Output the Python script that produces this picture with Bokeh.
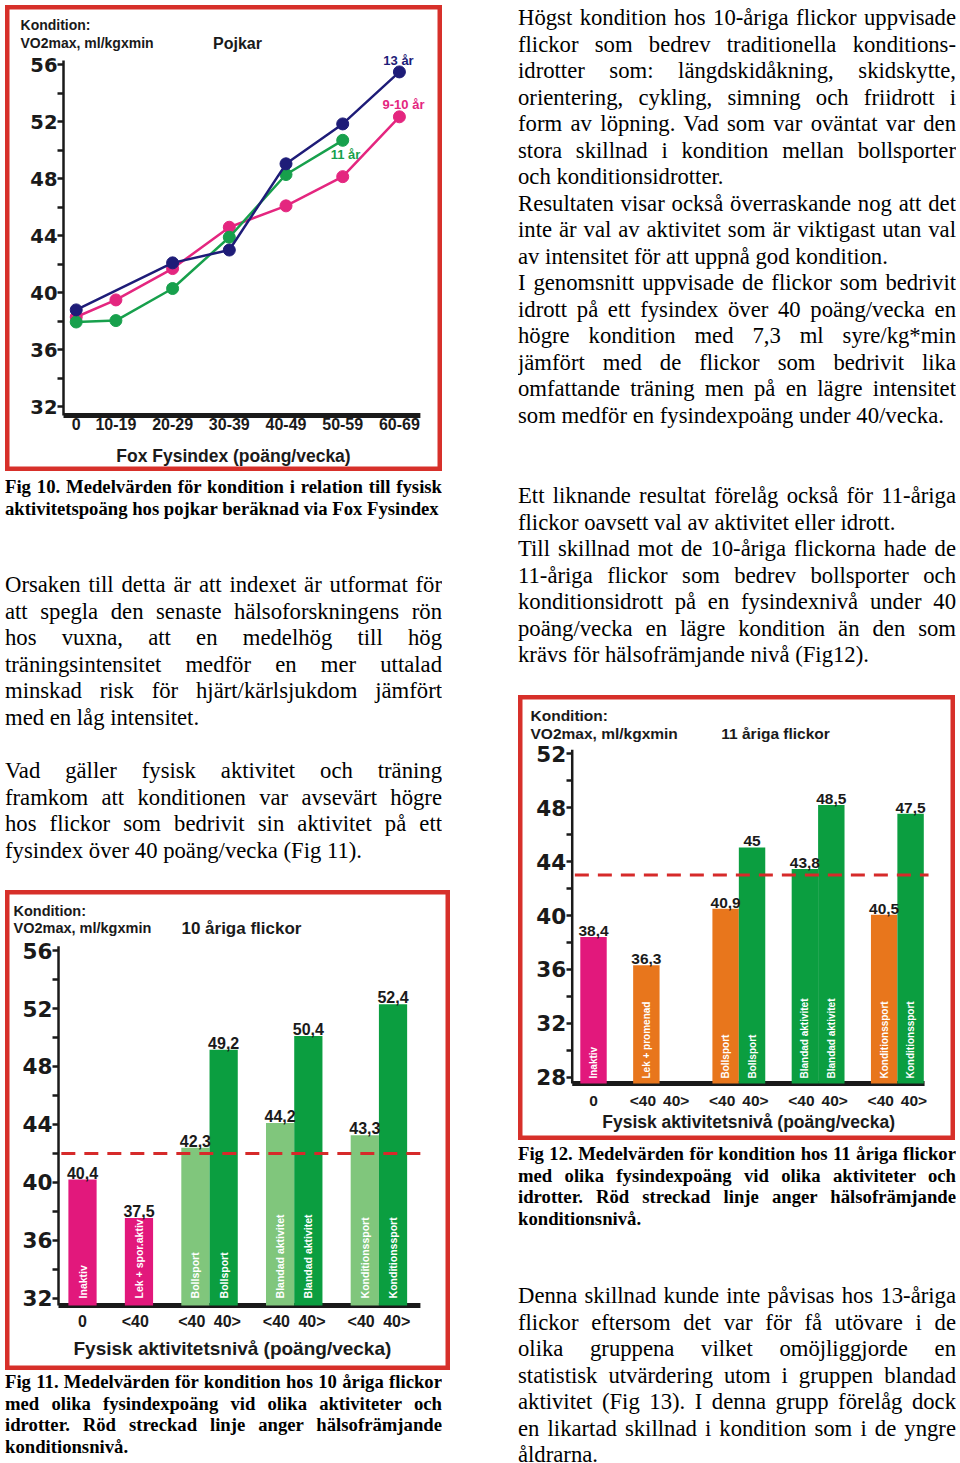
import math
from bokeh.plotting import figure
from bokeh.models import FixedTicker, Label, Div, Spacer, ColumnDataSource
from bokeh.layouts import column, row
from bokeh.embed import file_html
from bokeh.resources import INLINE
from bokeh.core.properties import value

# ---------------- data ----------------
fox_categories = ["0", "10-19", "20-29", "30-39", "40-49", "50-59", "60-69"]
boys_13 = [38.8, None, 42.1, 43.0, 49.05, 51.85, 55.5]
boys_9_10 = [38.3, 39.5, 41.7, 44.6, 46.1, 48.15, 52.35]
boys_11 = [37.95, 38.05, 40.3, 43.9, 48.3, 50.7, None]

g10_activity = ["Inaktiv", "Lek + spor.aktiv", "Bollsport", "Bollsport",
                "Blandad aktivitet", "Blandad aktivitet", "Konditionssport", "Konditionssport"]
g10_level = ["0", "<40", "<40", "40>", "<40", "40>", "<40", "40>"]
g10_height = [40.2, 37.55, 42.4, 49.15, 44.1, 50.1, 43.25, 52.3]
g10_value_text = ["40,4", "37,5", "42,3", "49,2", "44,2", "50,4", "43,3", "52,4"]
g10_kind = ["pink", "pink", "light", "dark", "light", "dark", "light", "dark"]

g11_activity = ["Inaktiv", "Lek + promenad", "", "Bollsport", "Bollsport",
                "Blandad aktivitet", "Blandad aktivitet", "Konditionssport", "Konditionssport"]
g11_level = ["0", "<40", "40>", "<40", "40>", "<40", "40>", "<40", "40>"]
g11_height = [38.4, 36.3, None, 40.5, 45.05, 43.45, 48.2, 40.05, 47.55]
g11_value_text = ["38,4", "36,3", "", "40,9", "45", "43,8", "48,5", "40,5", "47,5"]
g11_kind = ["pink", "orange", "", "orange", "dark", "dark", "dark", "orange", "dark"]

health_level_10 = 42.0
health_level_11 = 43.0

# ---------------- layout / style ----------------
fox_x = [0, 7, 17, 27, 37, 47, 57]
g10_slots = [0, 2, 4, 5, 7, 8, 10, 11]
g11_slots = [0, 2, 3, 5, 6, 8, 9, 11, 12]
LEVEL_SHIFT = {"0": 0.0, "<40": -0.13, "40>": 0.13}

RED = "#d7302a"
PINK = "#e2187c"
LIGHT = "#80c67c"
DARK = "#0b9e40"
ORANGE = "#e8761c"
NAVY = "#1e1c78"
LGREEN = "#17a04c"
LPINK = "#e4267f"
INK = "#1a1a1a"
KIND_COLOR = {"pink": PINK, "light": LIGHT, "dark": DARK, "orange": ORANGE}
SANS = "Liberation Sans"


def make_fig(w, h, xr, yr):
    p = figure(width=w, height=h, x_range=xr, y_range=yr, output_backend="svg",
               toolbar_location=None, min_border=0, min_border_left=0, min_border_right=0,
               min_border_top=0, min_border_bottom=0)
    p.title.visible = False
    p.grid.visible = False
    p.background_fill_color = "white"
    p.border_fill_color = "white"
    p.outline_line_color = RED
    p.outline_line_width = 8
    return p


def style_y(p, at_x, major, minor, size, y0, y1):
    ya = p.yaxis[0]
    ya.fixed_location = at_x
    ya.ticker = FixedTicker(ticks=major, minor_ticks=minor)
    ya.axis_line_color = None
    ya.major_tick_out = 6
    ya.major_tick_in = 0
    ya.minor_tick_out = 6
    ya.minor_tick_in = 0
    ya.major_tick_line_width = 2.5
    ya.minor_tick_line_width = 2.5
    ya.major_tick_line_color = INK
    ya.minor_tick_line_color = INK
    ya.major_label_text_font = "DejaVu Sans"
    ya.major_label_text_font_style = "bold"
    ya.major_label_text_font_size = size
    ya.major_label_text_color = INK
    ya.major_label_standoff = 0
    p.segment(x0=[at_x], y0=[y0], x1=[at_x], y1=[y1], line_color=INK, line_width=2.5)


def style_x(p, at_y, ticks, labels, lab_size, standoff, x0, x1):
    xa = p.xaxis[0]
    xa.fixed_location = at_y
    xa.ticker = FixedTicker(ticks=ticks, minor_ticks=[])
    xa.major_label_overrides = {t: l for t, l in zip(ticks, labels)}
    xa.axis_line_color = None
    xa.major_tick_out = 0
    xa.major_tick_in = 0
    xa.minor_tick_out = 0
    xa.minor_tick_in = 0
    xa.major_label_text_font = SANS
    xa.major_label_text_font_style = "bold"
    xa.major_label_text_font_size = lab_size
    xa.major_label_text_color = INK
    xa.major_label_standoff = standoff
    p.segment(x0=[x0], y0=[at_y], x1=[x1], y1=[at_y], line_color=INK, line_width=5)


def add_label(p, x, y, text, size, color=INK, align="left"):
    p.add_layout(Label(x=x, y=y, text=text, text_font=SANS, text_font_style="bold",
                       text_font_size=size, text_color=color, text_align=align,
                       text_baseline="middle"))


# ---------------- Fig 10: line chart ----------------
# canvas = whole red box (437 x 466)
p1 = make_fig(437, 466, (-12.47, 64.6), (27.46, 60.16))
AX1_X, AX1_Y = -2.24, 31.39
style_y(p1, AX1_X, list(range(32, 57, 4)), list(range(34, 55, 4)), "19.5px", AX1_Y, 56.3)
style_x(p1, AX1_Y, fox_x, fox_categories, "16px", 3, AX1_X, 60.7)

for series, color in ((boys_9_10, LPINK), (boys_11, LGREEN), (boys_13, NAVY)):
    xs = [x for x, v in zip(fox_x, series) if v is not None]
    ys = [v for v in series if v is not None]
    p1.line(xs, ys, line_color=color, line_width=2.5)
    p1.scatter(xs, ys, size=12, fill_color=color, line_color=color)

add_label(p1, 56.84, 56.3, "13 år", "13px", NAVY, "center")
add_label(p1, 57.72, 53.21, "9-10 år", "13px", LPINK, "center")
add_label(p1, 47.5, 49.7, "11 år", "13px", LGREEN, "center")
add_label(p1, -9.82, 58.76, "Kondition:", "14px")
add_label(p1, -9.82, 57.5, "VO2max, ml/kgxmin", "14px")
add_label(p1, 28.45, 57.5, "Pojkar", "16px", INK, "center")
add_label(p1, 27.74, 28.58, "Fox Fysindex (poäng/vecka)", "17.5px", INK, "center")


# ---------------- bar chart helper ----------------
def bar_chart(w, h, xr, yr, ax_x, ax_y, y_top, x_end, dash_end, slots, levels, heights,
              values, kinds, activity, major, minor, health, ppu, title, title_pos, head_x,
              head_y, head_size, title_size, axis_lab_pos, axis_lab_size, tick_size,
              tick_standoff, ytick_size, text_lift, act_size, val_size):
    p = make_fig(w, h, xr, yr)
    style_y(p, ax_x, major, minor, ytick_size, ax_y, y_top)
    tick_pos = [s + LEVEL_SHIFT[l] for s, l in zip(slots, levels)]
    style_x(p, ax_y, tick_pos, levels, tick_size, tick_standoff, ax_x, x_end)
    idx = [i for i, v in enumerate(heights) if v is not None]
    src = ColumnDataSource(dict(
        x=[slots[i] for i in idx],
        top=[heights[i] for i in idx],
        color=[KIND_COLOR[kinds[i]] for i in idx],
        act=[activity[i] for i in idx],
        val=[values[i] for i in idx],
        base=[ax_y + text_lift / ppu for i in idx],
        lab_y=[heights[i] + 1.0 / ppu for i in idx],
    ))
    p.vbar(x="x", top="top", bottom=ax_y, width=1.0, fill_color="color", line_color=None,
           source=src)
    p.text(x="x", y="base", text="act", angle=math.pi / 2, text_align="left",
           text_baseline="middle", text_color="white", text_font=value(SANS),
           text_font_style="bold", text_font_size=act_size, source=src)
    p.text(x="x", y="lab_y", text="val", text_align="center", text_baseline="bottom",
           text_color=INK, text_font=value(SANS), text_font_style="bold",
           text_font_size=val_size, source=src)
    p.line([ax_x + 0.1, dash_end], [health, health], line_color="#d62a2a", line_width=3,
           line_dash="14 9")
    add_label(p, head_x, head_y[0], "Kondition:", head_size)
    add_label(p, head_x, head_y[1], "VO2max, ml/kgxmin", head_size)
    add_label(p, title_pos[0], title_pos[1], title, title_size, INK, "center")
    add_label(p, axis_lab_pos[0], axis_lab_pos[1], "Fysisk aktivitetsnivå (poäng/vecka)",
              axis_lab_size, INK, "center")
    return p


# canvas = whole red box (445 x 480)
p2 = bar_chart(445, 480, (-2.728, 13.036), (27.03, 60.14), -0.85, 31.52, 56.3, 11.97, 12.15,
               g10_slots, g10_level, g10_height, g10_value_text, g10_kind, g10_activity,
               list(range(32, 57, 4)), list(range(34, 55, 4)), health_level_10, 14.5,
               "10 åriga flickor", (5.63, 57.52), -2.444, (58.76, 57.52), "14.5px", "17px",
               (5.31, 28.55), "19px", "16px", 8, "21.5px", 7, "10.5px", "16px")

# canvas = whole red box (437 x 445)
p3 = bar_chart(437, 445, (-2.839, 13.70), (23.30, 56.33), -0.806, 27.53, 52.3, 12.53, 12.68,
               g11_slots, g11_level, g11_height, g11_value_text, g11_kind, g11_activity,
               list(range(28, 53, 4)), list(range(30, 51, 4)), health_level_11, 13.475,
               "11 åriga flickor", (6.89, 53.51), -2.385, (54.84, 53.51), "15.5px", "15.5px",
               (5.87, 24.64), "17.5px", "15.5px", 8, "21.5px", 5, "10px", "15.5px")


# ---------------- text blocks ----------------
def text_block(lines, width, height, size, lh, bold=False, pad=0):
    rows = "".join(
        '<div style="text-align:{a};text-align-last:{a};">{t}</div>'.format(
            a="justify" if j else "left", t=t)
        for t, j in lines)
    html = ('<div style="padding-top:{pad}px;font-family:\'Liberation Serif\',\'Times New Roman\',serif;'
            'font-size:{size}px;line-height:{lh}px;font-weight:{fw};color:#000;width:{w}px;">'
            '{rows}</div>').format(pad=pad, size=size, lh=lh, fw="bold" if bold else "normal",
                                   w=width, rows=rows)
    return Div(text=html, width=width, height=height, margin=0,
               styles={"overflow": "hidden"})


BODY = 22.7
BODY_LH = 26.5
CAP = 18.7
CAP_LH = 21.8

cap10 = text_block([
    ("Fig 10. Medelvärden för kondition i relation till fysisk", True),
    ("aktivitetspoäng hos pojkar beräknad via Fox Fysindex", False),
], 437, 101, CAP, 22, True, 5)

para1 = text_block([
    ("Orsaken till detta är att indexet är utformat för", True),
    ("att spegla den senaste hälsoforskningens rön", True),
    ("hos vuxna, att en medelhög till hög", True),
    ("träningsintensitet medför en mer uttalad", True),
    ("minskad risk för hjärt/kärlsjukdom jämfört", True),
    ("med en låg intensitet.", False),
], 437, 186, BODY, BODY_LH)

para2 = text_block([
    ("Vad gäller fysisk aktivitet och träning", True),
    ("framkom att konditionen var avsevärt högre", True),
    ("hos flickor som bedrivit sin aktivitet på ett", True),
    ("fysindex över 40 poäng/vecka (Fig 11).", False),
], 437, 132, BODY, BODY_LH)

cap11 = text_block([
    ("Fig 11. Medelvärden för kondition hos 10 åriga flickor", True),
    ("med olika fysindexpoäng vid olika aktiviteter och", True),
    ("idrotter. Röd streckad linje anger hälsofrämjande", True),
    ("konditionsnivå.", False),
], 437, 93, CAP, 21.7, True, 1)

text1 = text_block([
    ("Högst kondition hos 10-åriga flickor uppvisade", True),
    ("flickor som bedrev traditionella konditions-", True),
    ("idrotter som: längdskidåkning, skidskytte,", True),
    ("orientering, cykling, simning och friidrott i", True),
    ("form av löpning. Vad som var oväntat var den", True),
    ("stora skillnad i kondition mellan bollsporter", True),
    ("och konditionsidrotter.", False),
    ("Resultaten visar också överraskande nog att det", True),
    ("inte är val av aktivitet som är viktigast utan val", True),
    ("av intensitet för att uppnå god kondition.", False),
    ("I genomsnitt uppvisade de flickor som bedrivit", True),
    ("idrott på ett fysindex över 40 poäng/vecka en", True),
    ("högre kondition med 7,3 ml syre/kg*min", True),
    ("jämfört med de flickor som bedrivit lika", True),
    ("omfattande träning men på en lägre intensitet", True),
    ("som medför en fysindexpoäng under 40/vecka.", False),
], 438, 478, BODY, BODY_LH)

text2 = text_block([
    ("Ett liknande resultat förelåg också för 11-åriga", True),
    ("flickor oavsett val av aktivitet eller idrott.", False),
    ("Till skillnad mot de 10-åriga flickorna hade de", True),
    ("11-åriga flickor som bedrev bollsporter och", True),
    ("konditionsidrott på en fysindexnivå under 40", True),
    ("poäng/vecka en lägre kondition än den som", True),
    ("krävs för hälsofrämjande nivå (Fig12).", False),
], 438, 212, BODY, BODY_LH)

cap12 = text_block([
    ("Fig 12. Medelvärden för kondition hos 11 åriga flickor", True),
    ("med olika fysindexpoäng vid olika aktiviteter och", True),
    ("idrotter. Röd streckad linje anger hälsofrämjande", True),
    ("konditionsnivå.", False),
], 438, 143, CAP, 21.7, True, 3)

text3 = text_block([
    ("Denna skillnad kunde inte påvisas hos 13-åriga", True),
    ("flickor eftersom det var för få utövare i de", True),
    ("olika gruppena vilket omöjliggjorde en", True),
    ("statistisk utvärdering utom i gruppen blandad", True),
    ("aktivitet (Fig 13). I denna grupp förelåg dock", True),
    ("en likartad skillnad i kondition som i de yngre", True),
    ("åldrarna.", False),
], 438, 180, BODY, BODY_LH)

left = column(Spacer(width=1, height=5), p1, cap10, para1, para2, p2, cap11, spacing=0)
right = column(Spacer(width=1, height=5), text1, text2, p3, cap12, text3, spacing=0)
root = row(Spacer(width=5, height=1), left, Spacer(width=68, height=1), right, spacing=0)

with open("out.html", "w", encoding="utf-8") as f:
    f.write(file_html(root, INLINE))
